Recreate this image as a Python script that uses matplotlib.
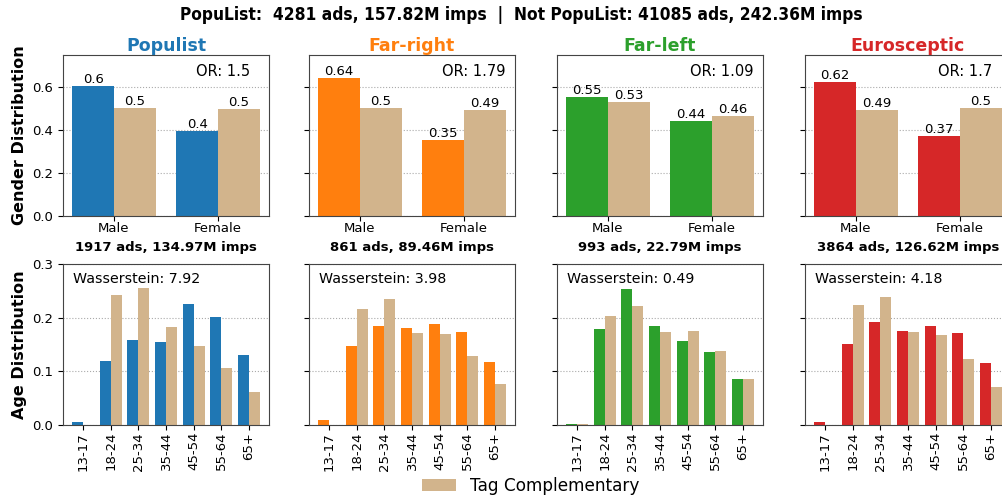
import matplotlib.pyplot as plt
import numpy as np

# Groups and colours
groups = ['Populist', 'Far-right', 'Far-left', 'Eurosceptic']
group_colors = ['#1f77b4', '#ff7f0e', '#2ca02c', '#d62728']
comp_color = '#d2b48c'

# Gender distribution (Male, Female)
genders = ['Male', 'Female']
gender_tag = [[0.604, 0.396], [0.644, 0.354], [0.553, 0.444], [0.622, 0.374]]
gender_comp = [[0.503, 0.497], [0.503, 0.494], [0.533, 0.464], [0.494, 0.502]]
odds_ratio = [1.5, 1.79, 1.09, 1.7]

# Ads / impressions per group
group_counts = ['1917 ads, 134.97M imps', '861 ads, 89.46M imps',
                '993 ads, 22.79M imps', '3864 ads, 126.62M imps']

# Age distribution
ages = ['13-17', '18-24', '25-34', '35-44', '45-54', '55-64', '65+']
age_tag = [
    [0.006, 0.119, 0.158, 0.154, 0.226, 0.201, 0.130],
    [0.010, 0.147, 0.184, 0.181, 0.188, 0.173, 0.117],
    [0.001, 0.179, 0.254, 0.184, 0.156, 0.136, 0.085],
    [0.006, 0.151, 0.192, 0.175, 0.184, 0.171, 0.115],
]
age_comp = [
    [0.000, 0.2425, 0.256, 0.1825, 0.147, 0.106, 0.061],
    [0.000, 0.216, 0.235, 0.171, 0.169, 0.128, 0.076],
    [0.0025, 0.203, 0.222, 0.173, 0.175, 0.1375, 0.085],
    [0.000, 0.224, 0.239, 0.173, 0.1675, 0.1225, 0.070],
]
wasserstein = [7.92, 3.98, 0.49, 4.18]

title_text = 'PopuList:  4281 ads, 157.82M imps  |  Not PopuList: 41085 ads, 242.36M imps'

fig = plt.figure(figsize=(10.03, 4.99), dpi=100)
W, H = 1003.0, 499.0
col_left = [63, 309, 557, 805]
ax_w = 206
row_top = [55, 264]
ax_h = 161

width = 0.4
for i, g in enumerate(groups):
    # gender panel
    ax = fig.add_axes([col_left[i] / W, 1 - (row_top[0] + ax_h) / H, ax_w / W, ax_h / H])
    x = np.arange(len(genders))
    b1 = ax.bar(x - width / 2, gender_tag[i], width, color=group_colors[i])
    b2 = ax.bar(x + width / 2, gender_comp[i], width, color=comp_color, label='Tag Complementary')
    for bars in (b1, b2):
        for b in bars:
            ax.text(b.get_x() + b.get_width() / 2, b.get_height(), str(round(b.get_height(), 2)),
                    ha='center', va='bottom', fontsize=9.5)
    ax.set_ylim(0, 0.75)
    ax.set_yticks([0.0, 0.2, 0.4, 0.6])
    ax.set_xticks(x)
    ax.set_xticklabels(genders, fontsize=9.5)
    ax.tick_params(axis='x', pad=1)
    ax.yaxis.grid(True, linestyle=':', color='#aaaaaa', linewidth=0.8)
    ax.set_axisbelow(True)
    ax.set_title(g, color=group_colors[i], fontsize=12.5, fontweight='bold', pad=2)
    ax.set_xlabel(group_counts[i], fontsize=9.5, fontweight='bold', labelpad=4)
    ax.text(0.645, 0.945, 'OR: ' + str(odds_ratio[i]), transform=ax.transAxes,
            ha='left', va='top', fontsize=10.5)
    if i == 0:
        ax.set_ylabel('Gender Distribution', fontsize=11.5, fontweight='bold')
        ax.tick_params(axis='y', labelsize=9.5)
    else:
        ax.tick_params(axis='y', labelleft=False)
    for s in ax.spines.values():
        s.set_color('#444444')
    if i == 0:
        legend_handle = b2

    # age panel
    ax2 = fig.add_axes([col_left[i] / W, 1 - (row_top[1] + ax_h) / H, ax_w / W, ax_h / H])
    xa = np.arange(len(ages))
    ax2.bar(xa - width / 2, age_tag[i], width, color=group_colors[i])
    ax2.bar(xa + width / 2, age_comp[i], width, color=comp_color)
    ax2.set_ylim(0, 0.3)
    ax2.set_yticks([0.0, 0.1, 0.2, 0.3])
    ax2.set_xticks(xa)
    ax2.set_xticklabels(ages, rotation=90, fontsize=9.5)
    ax2.tick_params(axis='x', pad=1.5)
    ax2.yaxis.grid(True, linestyle=':', color='#aaaaaa', linewidth=0.8)
    ax2.set_axisbelow(True)
    ax2.text(0.05, 0.95, 'Wasserstein: ' + str(wasserstein[i]), transform=ax2.transAxes,
             ha='left', va='top', fontsize=10.3)
    if i == 0:
        ax2.set_ylabel('Age Distribution', fontsize=11.5, fontweight='bold')
        ax2.tick_params(axis='y', labelsize=9.5)
    else:
        ax2.tick_params(axis='y', labelleft=False)
    for s in ax2.spines.values():
        s.set_color('#444444')

fig.suptitle(title_text, fontsize=12.4, fontweight='bold', fontstretch='condensed', x=0.52, y=0.987)
fig.legend([legend_handle], ['Tag Complementary'], loc='lower center', frameon=False,
           fontsize=12.2, bbox_to_anchor=(0.529, -0.022))

plt.savefig('out.png', dpi=100)
